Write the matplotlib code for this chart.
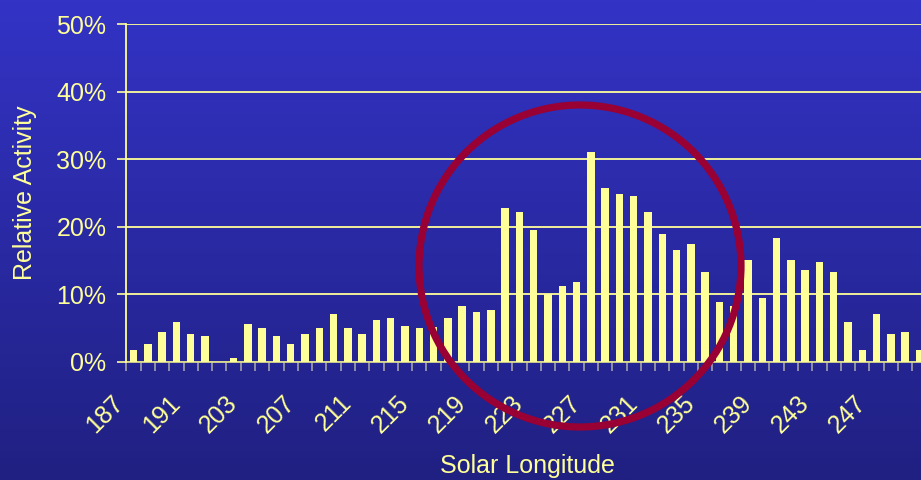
import numpy as np
import matplotlib
matplotlib.use("Agg")
import matplotlib.pyplot as plt
from matplotlib.patches import Ellipse
import matplotlib.transforms as mtransforms

plt.rcParams['font.family'] = ['Liberation Sans', 'DejaVu Sans']

# ---- data ----
categories = ['187', '188', '189', '190', '191', '192', '193', '202'] + [str(v) for v in range(203, 251)]
values = [1.7, 2.6, 4.4, 5.9, 4.1, 3.8, 0.0, 0.55,
          5.6, 5.0, 3.8, 2.6, 4.1, 5.0, 7.0, 5.0,
          4.1, 6.2, 6.5, 5.3, 5.0, 5.2, 6.5, 8.25,
          7.4, 7.65, 22.7, 22.2, 19.5, 10.0, 11.2, 11.8,
          31.1, 25.7, 24.8, 24.5, 22.2, 18.9, 16.5, 17.4,
          13.3, 8.8, 8.25, 15.1, 9.4, 18.3, 15.1, 13.6,
          14.8, 13.3, 5.9, 1.7, 7.0, 4.1, 4.4, 1.7]
y_ticks = [0, 10, 20, 30, 40, 50]
y_ticklabels = ['0%', '10%', '20%', '30%', '40%', '50%']

W, H = 921, 480
YELLOW = '#FFFF99'

fig = plt.figure(figsize=(W / 100, H / 100), dpi=100)

# gradient background
bg = fig.add_axes([0, 0, 1, 1], zorder=-10)
top = np.array([0x33, 0x33, 0xC6]) / 255
bot = np.array([0x20, 0x20, 0x82]) / 255
t = np.linspace(0, 1, 256)[:, None]
grad = top[None, :] * (1 - t) + bot[None, :] * t
bg.imshow(grad[:, None, :], aspect='auto', extent=[0, 1, 0, 1])
bg.set_axis_off()

# plot axes (extends beyond right edge, as in the reference)
n = len(values)
slot = 14.29
left_px = 126.4
xmin, xmax = -0.5, 56.5
width_px = (xmax - xmin) * slot
y0_px, y50_px = 361.7, 24.0
ax = fig.add_axes([left_px / W, (H - y0_px) / H, width_px / W, (y0_px - y50_px) / H])
ax.set_facecolor('none')

x = np.arange(n)
ax.bar(x, values, width=0.52, color=YELLOW, zorder=3)

ax.set_xlim(xmin, xmax)
ax.set_ylim(0, 50)

# grid
ax.set_yticks(y_ticks)
ax.set_yticklabels(y_ticklabels)
ax.yaxis.grid(True, color=YELLOW, lw=1.3, zorder=1)
ax.set_axisbelow(True)

for s in ['top', 'right']:
    ax.spines[s].set_visible(False)
ax.spines['left'].set_color(YELLOW)
ax.spines['left'].set_linewidth(1.3)
ax.spines['bottom'].set_color('#D8D890')
ax.spines['bottom'].set_linewidth(1.3)
ax.spines['left'].set_zorder(4)

ax.tick_params(axis='y', colors=YELLOW, labelsize=18, length=6.5, width=1.2, pad=8, direction='out')

# x: tick marks at category boundaries, labels every 4th category
major_idx = list(range(0, n, 4))
ax.set_xticks(major_idx)
ax.set_xticklabels([categories[i] for i in major_idx])
ax.set_xticks(np.arange(n + 1) - 0.5, minor=True)
ax.tick_params(axis='x', which='major', length=0, labelsize=18, labelcolor=YELLOW, pad=27)
ax.tick_params(axis='x', which='minor', length=6.5, width=1.2, color='#A0A0A8')
offset = mtransforms.ScaledTranslation(-14 / 100, 0, fig.dpi_scale_trans)
for lab in ax.get_xticklabels():
    lab.set_rotation(45)
    lab.set_ha('right')
    lab.set_va('center')
    lab.set_rotation_mode('anchor')
    lab.set_transform(lab.get_transform() + offset)

ax.set_ylabel('Relative Activity', color=YELLOW, fontsize=18)
ax.yaxis.set_label_coords((37 - left_px) / width_px, 0.5)
ax.set_xlabel('Solar Longitude', color=YELLOW, fontsize=18, va='top')
ax.xaxis.set_label_coords((527 - left_px) / width_px, (y0_px - 454) / (y0_px - y50_px))

# highlight circle (annotation)
circ = Ellipse((580 / W, 1 - 266 / H), 322 / W, 322 / H, transform=fig.transFigure,
               fill=False, edgecolor='#990033', lw=5.2, zorder=10, clip_on=False)
fig.add_artist(circ)

fig.savefig('out.png', dpi=100)
